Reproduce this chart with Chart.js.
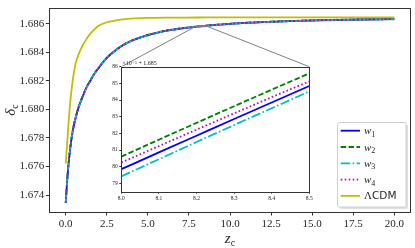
<!DOCTYPE html>
<html>
<head>
<meta charset="utf-8">
<script src="https://cdn.jsdelivr.net/npm/chart.js@4.4.0/dist/chart.umd.min.js"></script>
<style>
html, body { margin: 0; padding: 0; background: #fff; }
#wrap { position: relative; width: 415px; height: 248px; }
#main { position: absolute; left: 0; top: 0; }
#insetBox { position: absolute; left: 96px; top: 52px; width: 219px; height: 152px; }
</style>
</head>
<body>
<div id="wrap">
  <canvas id="main" width="415" height="248"></canvas>
  <div id="insetBox"><canvas id="inset" width="219" height="152"></canvas></div>
</div>
<script type="text/javascript">
// main panel: delta_c vs z_c
var zMain = [0, 0.1, 0.2, 0.3, 0.4, 0.5, 0.6, 0.8, 1.0, 1.25, 1.5, 1.75, 2.0, 2.5, 3.0, 3.5, 4.0, 5.0, 6.0, 7.0, 8.0, 9.0, 10, 12, 14, 16, 18, 20];
var w1Main = [1.67346, 1.67520, 1.67650, 1.67750, 1.67830, 1.67890, 1.67940, 1.68020, 1.68080, 1.68150, 1.68200, 1.68250, 1.68290, 1.68360, 1.68410, 1.68450, 1.68480, 1.68520, 1.68548, 1.68566, 1.685799, 1.68590, 1.68599, 1.68611, 1.68619, 1.68625, 1.68629, 1.68632];
var w2Main = [1.67347, 1.67522, 1.67652, 1.67752, 1.67832, 1.67892, 1.67942, 1.68022, 1.68082, 1.68152, 1.68202, 1.68252, 1.68291, 1.68361, 1.68411, 1.68451, 1.68481, 1.68521, 1.68549, 1.68567, 1.685806, 1.68591, 1.68600, 1.68612, 1.68620, 1.68626, 1.68630, 1.68633];
var w3Main = [1.67345, 1.67519, 1.67649, 1.67749, 1.67829, 1.67889, 1.67939, 1.68019, 1.68079, 1.68149, 1.68199, 1.68249, 1.68289, 1.68359, 1.68409, 1.68449, 1.68479, 1.68519, 1.68547, 1.68565, 1.685794, 1.68589, 1.68598, 1.68610, 1.68618, 1.68624, 1.68628, 1.68631];
var w4Main = [1.67346, 1.67521, 1.67651, 1.67751, 1.67831, 1.67891, 1.67941, 1.68021, 1.68081, 1.68151, 1.68201, 1.68251, 1.68290, 1.68360, 1.68410, 1.68450, 1.68480, 1.68520, 1.68548, 1.68566, 1.685802, 1.68590, 1.68599, 1.68611, 1.68619, 1.68625, 1.68629, 1.68632];

var zLcdm = [0, 0.1, 0.2, 0.3, 0.4, 0.5, 0.6, 0.8, 1.0, 1.25, 1.5, 1.75, 2.0, 2.5, 3.0, 3.5, 4.0, 5.0, 6.0, 8.0, 10, 15, 20];
var lcdm = [1.67620, 1.67780, 1.67950, 1.68080, 1.68180, 1.68260, 1.68320, 1.68390, 1.68440, 1.68490, 1.68530, 1.68560, 1.68585, 1.68610, 1.68622, 1.68630, 1.68635, 1.68640, 1.68642, 1.68643, 1.68644, 1.68644, 1.68644];

// zoomed panel, z_c = 8.0 ... 8.5
var zInset = [8.0, 8.1, 8.2, 8.3, 8.4, 8.5];
var w1Inset = [1.6857985, 1.6858086, 1.6858186, 1.6858286, 1.6858385, 1.6858484];
var w2Inset = [1.6858060, 1.6858162, 1.6858263, 1.6858363, 1.6858462, 1.6858560];
var w3Inset = [1.6857942, 1.6858045, 1.6858148, 1.6858250, 1.6858351, 1.6858452];
var w4Inset = [1.6858025, 1.6858124, 1.6858222, 1.6858320, 1.6858417, 1.6858512];

var xTicks = [0, 2.5, 5, 7.5, 10, 12.5, 15, 17.5, 20];
var yTicks = [1.674, 1.676, 1.678, 1.680, 1.682, 1.684, 1.686];
var xInsetTicks = [8.0, 8.1, 8.2, 8.3, 8.4, 8.5];
var yInsetTicks = [1.68579, 1.68580, 1.68581, 1.68582, 1.68583, 1.68584, 1.68585, 1.68586];
var insetOffset = 1.685;

var seriesNames = ['w1', 'w2', 'w3', 'w4', 'LCDM'];

var SERIF = '"Liberation Serif", "DejaVu Serif", serif';
var SANS = '"DejaVu Sans", sans-serif';
var INK = '#262626';

function pts(xs, ys) {
  return xs.map((x, i) => ({ x: x, y: ys[i] }));
}

var styles = {
  w1: { borderColor: '#0000ff', borderDash: [] },
  w2: { borderColor: '#008000', borderDash: [5.5, 2.4] },
  w3: { borderColor: '#00bfbf', borderDash: [9.5, 2.4, 1.6, 2.4] },
  w4: { borderColor: '#bf00bf', borderDash: [1.6, 2.4] },
  LCDM: { borderColor: '#bfbf00', borderDash: [] }
};

function lineSet(name, data, order) {
  return {
    label: name,
    data: data,
    borderColor: styles[name].borderColor,
    borderDash: styles[name].borderDash,
    borderWidth: 1.8,
    pointRadius: 0,
    fill: false,
    cubicInterpolationMode: 'monotone',
    order: order
  };
}

// draw text made of pieces (for subscripts / mixed fonts)
function drawParts(ctx, parts, x, y, align) {
  var w = 0;
  parts.forEach(p => { ctx.font = p.f; w += ctx.measureText(p.t).width; });
  var cx = align === 'center' ? x - w / 2 : x;
  parts.forEach(p => {
    ctx.font = p.f;
    ctx.fillText(p.t, cx, y + (p.dy || 0));
    cx += ctx.measureText(p.t).width;
  });
}

var insetChart = null;

var framePlugin = {
  id: 'frame',
  beforeDraw(chart) {
    var a = chart.chartArea, ctx = chart.ctx;
    ctx.save();
    ctx.fillStyle = '#fff';
    ctx.fillRect(a.left, a.top, a.right - a.left, a.bottom - a.top);
    ctx.restore();
  },
  afterDraw(chart) {
    var a = chart.chartArea, ctx = chart.ctx;
    ctx.save();
    ctx.strokeStyle = '#333';
    ctx.lineWidth = 1;
    ctx.strokeRect(Math.round(a.left) + 0.5, Math.round(a.top) + 0.5, Math.round(a.right - a.left), Math.round(a.bottom - a.top));
    ctx.restore();
  }
};

var mainExtras = {
  id: 'mainExtras',
  afterDatasetsDraw(chart) {
    var ctx = chart.ctx, xs = chart.scales.x, ys = chart.scales.y;
    var x0 = xs.getPixelForValue(zInset[0]);
    var x1 = xs.getPixelForValue(zInset[zInset.length - 1]);
    var yTop = ys.getPixelForValue(yInsetTicks[yInsetTicks.length - 1]);
    var yBot = ys.getPixelForValue(1.685785);
    ctx.save();
    ctx.strokeStyle = '#808080';
    ctx.lineWidth = 1;
    ctx.strokeRect(x0, yTop, x1 - x0, yBot - yTop);
    if (insetChart) {
      var box = document.getElementById('insetBox');
      var ox = box.offsetLeft, oy = box.offsetTop;
      var ia = insetChart.chartArea;
      ctx.beginPath();
      ctx.moveTo(x0, yTop);
      ctx.lineTo(ox + ia.left, oy + ia.top);
      ctx.moveTo(x1, yTop);
      ctx.lineTo(ox + ia.right, oy + ia.top);
      ctx.stroke();
    }
    ctx.restore();
  },
  afterDraw(chart) {
    var ctx = chart.ctx, a = chart.chartArea;
    ctx.save();
    ctx.fillStyle = INK;
    ctx.textBaseline = 'alphabetic';
    // x title
    drawParts(ctx, [
      { t: 'z', f: 'italic 15px ' + SERIF },
      { t: 'c', f: '10px ' + SERIF, dy: 3 }
    ], (a.left + a.right) / 2, 243, 'center');
    // y title
    ctx.save();
    ctx.translate(15, (a.top + a.bottom) / 2);
    ctx.rotate(-Math.PI / 2);
    drawParts(ctx, [
      { t: 'δ', f: 'italic 15px ' + SERIF },
      { t: 'c', f: '10px ' + SERIF, dy: 3 }
    ], 0, 0, 'center');
    ctx.restore();

    // legend
    var lx = 337.5, ly = 122.5, lw = 68.5, lh = 84.5;
    ctx.fillStyle = 'rgba(0,0,0,0.13)';
    ctx.beginPath();
    ctx.roundRect(lx + 2, ly + 2, lw, lh, 2);
    ctx.fill();
    ctx.fillStyle = '#fff';
    ctx.strokeStyle = '#d0d0d0';
    ctx.lineWidth = 1;
    ctx.beginPath();
    ctx.roundRect(lx, ly, lw, lh, 2);
    ctx.fill();
    ctx.stroke();

    var labels = {
      w1: [{ t: 'w', f: 'italic 11px ' + SERIF }, { t: '1', f: '8px ' + SERIF, dy: 2.5 }],
      w2: [{ t: 'w', f: 'italic 11px ' + SERIF }, { t: '2', f: '8px ' + SERIF, dy: 2.5 }],
      w3: [{ t: 'w', f: 'italic 11px ' + SERIF }, { t: '3', f: '8px ' + SERIF, dy: 2.5 }],
      w4: [{ t: 'w', f: 'italic 11px ' + SERIF }, { t: '4', f: '8px ' + SERIF, dy: 2.5 }],
      LCDM: [{ t: 'Λ', f: '11px ' + SERIF }, { t: 'CDM', f: '10.5px ' + SANS }]
    };
    seriesNames.forEach((name, i) => {
      var yy = 130.7 + i * 16.3;
      ctx.save();
      ctx.strokeStyle = styles[name].borderColor;
      ctx.setLineDash(styles[name].borderDash);
      ctx.lineWidth = 1.8;
      ctx.beginPath();
      ctx.moveTo(340.7, yy);
      ctx.lineTo(360, yy);
      ctx.stroke();
      ctx.restore();
      ctx.fillStyle = INK;
      ctx.textBaseline = 'alphabetic';
      drawParts(ctx, labels[name], 364, yy + 3.5, 'left');
    });
    ctx.restore();
  }
};

var insetExtras = {
  id: 'insetExtras',
  afterDraw(chart) {
    var ctx = chart.ctx, a = chart.chartArea;
    ctx.save();
    ctx.fillStyle = INK;
    ctx.font = '6px ' + SERIF;
    ctx.textBaseline = 'alphabetic';
    ctx.fillText('×10⁻⁵ + ' + insetOffset.toFixed(3), a.left + 1, a.top - 2);
    ctx.restore();
  }
};

// inset first so the main chart can draw the connector lines to it
insetChart = new Chart(document.getElementById('inset'), {
  type: 'line',
  data: {
    datasets: [
      lineSet('w1', pts(zInset, w1Inset), 4),
      lineSet('w2', pts(zInset, w2Inset), 3),
      lineSet('w3', pts(zInset, w3Inset), 2),
      lineSet('w4', pts(zInset, w4Inset), 1)
    ]
  },
  options: {
    responsive: false,
    animation: false,
    events: [],
    layout: { padding: { left: 0, top: 14.7, right: 5.7, bottom: 0 } },
    plugins: { legend: { display: false }, tooltip: { enabled: false } },
    scales: {
      x: {
        type: 'linear', min: 8.0, max: 8.5,
        afterBuildTicks: s => { s.ticks = xInsetTicks.map(v => ({ value: v })); },
        afterFit: s => { s.height = 12.3; },
        border: { display: false },
        grid: { drawOnChartArea: false, drawTicks: true, tickLength: 2, tickColor: '#333' },
        ticks: { font: { family: SERIF, size: 5.5 }, color: INK, padding: 1.5, maxRotation: 0, autoSkip: false,
          callback: v => v.toFixed(1) }
      },
      y: {
        type: 'linear', min: 1.685785, max: 1.68586,
        afterBuildTicks: s => { s.ticks = yInsetTicks.map(v => ({ value: v })); },
        afterFit: s => { s.width = 25.3; },
        border: { display: false },
        grid: { drawOnChartArea: false, drawTicks: true, tickLength: 2, tickColor: '#333' },
        ticks: { font: { family: SERIF, size: 5.5 }, color: INK, padding: 1.5, autoSkip: false,
          callback: v => String(Math.round((v - insetOffset) * 1e5)) }
      }
    }
  },
  plugins: [framePlugin, insetExtras]
});

var mainChart = new Chart(document.getElementById('main'), {
  type: 'line',
  data: {
    datasets: [
      lineSet('w1', pts(zMain, w1Main), 5),
      lineSet('w2', pts(zMain, w2Main), 4),
      lineSet('w3', pts(zMain, w3Main), 3),
      lineSet('w4', pts(zMain, w4Main), 2),
      lineSet('LCDM', pts(zLcdm, lcdm), 1)
    ]
  },
  options: {
    responsive: false,
    animation: false,
    events: [],
    layout: { padding: { left: 0, top: 4.5, right: 4.3, bottom: 0 } },
    plugins: { legend: { display: false }, tooltip: { enabled: false } },
    scales: {
      x: {
        type: 'linear', min: -1, max: 21,
        afterBuildTicks: s => { s.ticks = xTicks.map(v => ({ value: v })); },
        afterFit: s => { s.height = 36; },
        border: { display: false },
        grid: { drawOnChartArea: false, drawTicks: true, tickLength: 3.5, tickColor: '#333' },
        ticks: { font: { family: SERIF, size: 11 }, color: INK, padding: 2, maxRotation: 0, autoSkip: false,
          callback: v => v.toFixed(1) }
      },
      y: {
        type: 'linear', min: 1.67281, max: 1.68709,
        afterBuildTicks: s => { s.ticks = yTicks.map(v => ({ value: v })); },
        afterFit: s => { s.width = 49.3; },
        border: { display: false },
        grid: { drawOnChartArea: false, drawTicks: true, tickLength: 3.5, tickColor: '#333' },
        ticks: { font: { family: SERIF, size: 11 }, color: INK, padding: 1.5, autoSkip: false,
          callback: v => v.toFixed(3) }
      }
    }
  },
  plugins: [framePlugin, mainExtras]
});
</script>
</body>
</html>
